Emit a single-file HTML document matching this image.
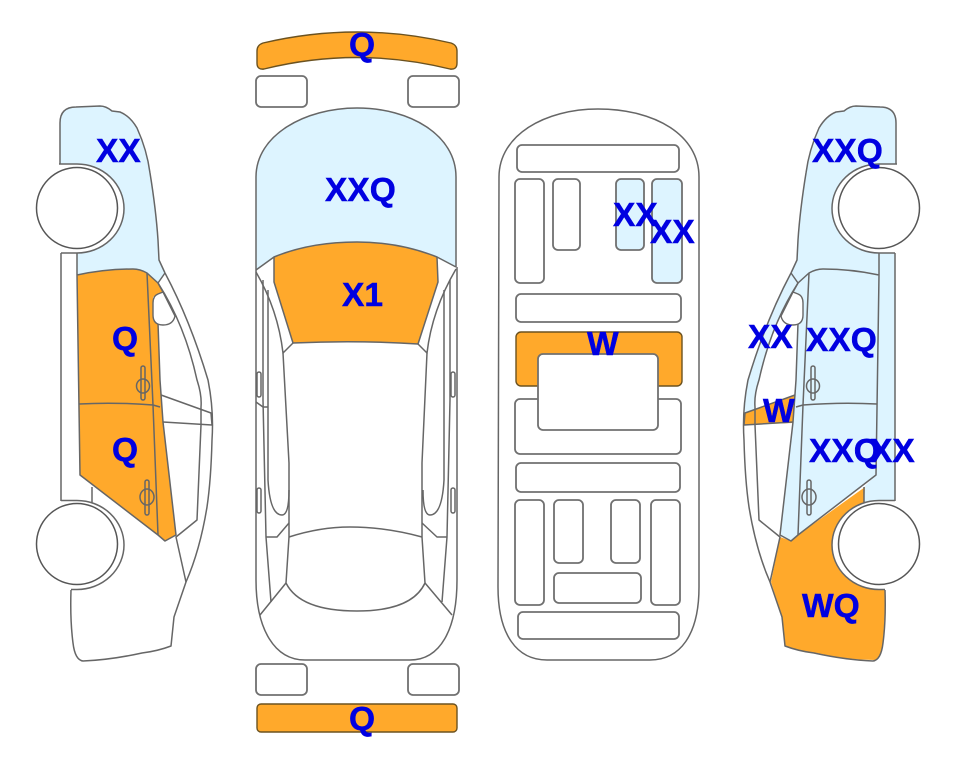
<!DOCTYPE html>
<html>
<head>
<meta charset="utf-8">
<style>
html,body{margin:0;padding:0;background:#fff;width:963px;height:768px;overflow:hidden}
svg{display:block}
.l{fill:none;stroke:#666;stroke-width:1.5;stroke-linejoin:round}
.r{fill:#fff;stroke:#707070;stroke-width:1.8}
.o{fill:#FFA92B}
.b{fill:#DDF4FF}
text{font-family:"Liberation Sans",sans-serif;font-weight:bold;font-size:33.5px;fill:#0000E1;stroke:#0000E1;stroke-width:.5}
</style>
</head>
<body>
<svg width="963" height="768" viewBox="0 0 963 768" xmlns="http://www.w3.org/2000/svg">
<defs>
<g id="side">
<path class="l" d="M60,164V123Q60,107 76,107L100,106Q106,106 112,111L120,112Q130,116 137,128Q147,150 150,173Q156,210 158,240L159,260L165,273"/>
<path class="l" d="M59,164H77A47,44.5 0 0 1 77,253H61"/>
<path class="l" d="M61,253V501M77,253V275L80,475L158,535L165,541L176,535L163,422L160,380L158,323M163,292L158,283L147,273Q140,269 133,269Q105,269 77,275"/>
<path class="l" d="M147,273L153,405L158,535M79,404Q115,402 153,405L160,407"/>
<path class="l" d="M165,273L158,283Q185,325 197,380Q202,395 201,407V425L197,520L176,537L186,582"/>
<path class="l" d="M165,273Q190,320 208,380Q214,410 212,440Q211,480 207,507Q200,550 186,582L174,617L171,646Q158,651 142,653Q110,660 83,661Q75,660 73,643Q70,620 71,590"/>
<path class="l" d="M161,395L211,413L212,425L163,422"/>
<path class="l" d="M61,500.5H77A47,44.5 0 0 1 77,589.5H71M92,487V503"/>
<ellipse class="l" cx="143" cy="386" rx="6.5" ry="7"/>
<rect class="l" x="141" y="366" width="4" height="34" rx="2"/>
<ellipse class="l" cx="147" cy="497" rx="7" ry="8"/>
<rect class="l" x="145" y="480" width="4" height="35" rx="2"/>
</g>
<path id="win" d="M153,303Q153,296 158,294L163,292L175,316Q173,325 163,325Q153,325 153,315Z" fill="#fff" stroke="#666" stroke-width="1.4"/>
<g id="wheels">
<circle cx="77" cy="208" r="40.5" fill="#fff" stroke="#555" stroke-width="1.5"/>
<circle cx="77" cy="544" r="40.5" fill="#fff" stroke="#555" stroke-width="1.5"/>
</g>
</defs>

<!-- left car -->
<path class="b" d="M60,164V123Q60,107 76,107L100,106Q106,106 112,111L120,112Q130,116 137,128Q147,150 150,173Q156,210 158,240L159,260L165,273L158,283L147,273Q140,269 133,269Q105,269 77,275V253A47,44.5 0 0 0 77,164Z"/>
<path class="o" d="M77,275Q105,269 133,269Q140,269 147,273L158,283L163,292L153,297V320L158,323L160,380L163,422L176,535L165,541L158,535L80,475Z"/>
<use href="#side"/>
<use href="#win"/>
<use href="#wheels"/>

<!-- right car -->
<g transform="translate(956,0) scale(-1,1)">
<path class="b" d="M60,164V123Q60,107 76,107L100,106Q106,106 112,111L120,112Q130,116 137,128Q147,150 150,173Q156,210 158,240L159,260L165,273L158,283L147,273Q140,269 133,269Q105,269 77,275V253A47,44.5 0 0 0 77,164Z"/>
<path class="b" d="M77,275Q105,269 133,269Q140,269 147,273L158,283L163,292L153,297V320L158,323L160,380L163,422L176,535L165,541L158,535L80,475Z"/>
<path class="b" d="M61,253H77L80,475L92,487V503A47,44.5 0 0 0 77,500.5H61Z"/>
<path class="b" d="M165,273Q190,320 208,380Q212,398 211,413L201,409V407Q202,395 197,380Q185,325 158,283Z"/>
<path class="o" d="M161,395L211,413L212,425L163,423Z"/>
<path class="o" d="M176,537L165,541L158,535L91,487L92,503A47,44.5 0 0 1 77,589.5H71L71,613L73,640Q75,660 81,660Q110,660 139,653Q158,651 171,646L174,617L185,582Z"/>
<use href="#side"/>
<use href="#win"/>
<use href="#wheels"/>
</g>

<!-- top view -->
<path class="o" d="M263,43Q357,21 451,43Q457,45 457,51V63Q457,70 450,69Q357,46 264,69Q257,70 257,63V51Q257,45 263,43Z" stroke="#6b5220" stroke-width="1.4"/>
<rect class="r" x="256" y="76" width="51" height="31" rx="5"/>
<rect class="r" x="408" y="76" width="51" height="31" rx="5"/>
<path class="b" d="M256,270V177C256,135 305,108 357,108C410,108 456,135 456,177V267L437,257Q400,242 357,242Q310,242 274,257Z"/>
<path class="o" d="M274,257Q310,242 357,242Q400,242 437,257L438,282L418,344Q357,340 293,343L274,282Z"/>
<path class="l" d="M256,270V177C256,135 305,108 357,108C410,108 456,135 456,177V267"/>
<path class="l" d="M256,270L274,257Q310,242 357,242Q400,242 437,257L456,267"/>
<path class="l" d="M274,257V282L293,343Q357,340 418,344L438,282L437,257"/>
<path class="l" d="M256,270V580C256,630 275,660 305,660H410C440,660 457,630 457,580V267"/>
<path class="l" d="M263,280V400L266,537L271,602M450,280V400L447,537L442,602"/>
<path class="l" d="M256,272Q278,310 283,353L293,343M456,269Q432,310 427,353L418,344"/>
<path class="l" d="M268,290V480Q270,515 282,515Q289,515 289,490M444,290V480Q442,515 430,515Q423,515 423,490"/>
<path class="l" d="M283,353L289,463V537L286,583Q300,611 357,611Q412,611 425,583L422,537V463L427,353"/>
<path class="l" d="M289,537Q320,527 350,527Q385,527 422,537"/>
<path class="l" d="M286,583L260,615M425,583L452,615"/>
<path class="l" d="M289,523L277,537H266M422,523L437,537H447M256,402L263,407H268"/>
<rect class="l" x="257" y="372" width="4" height="25" rx="2"/>
<rect class="l" x="257" y="488" width="4" height="25" rx="2"/>
<rect class="l" x="451" y="372" width="4" height="25" rx="2"/>
<rect class="l" x="451" y="488" width="4" height="25" rx="2"/>
<rect class="r" x="256" y="664" width="51" height="31" rx="5"/>
<rect class="r" x="408" y="664" width="51" height="31" rx="5"/>
<rect class="o" x="257" y="704" width="200" height="28" rx="4" stroke="#6b5220" stroke-width="1.4"/>

<!-- plan view -->
<path class="l" d="M499,177C499,135 545,109 598,109C655,109 699,135 699,177V587C699,635 680,660 650,660H547C517,660 498,635 498,587Z"/>
<rect class="r" x="517" y="145" width="162" height="27" rx="5"/>
<rect class="r" x="515" y="179" width="29" height="104" rx="5"/>
<rect class="r" x="553" y="179" width="27" height="71" rx="5"/>
<rect class="r" style="fill:#DDF4FF" x="616" y="179" width="28" height="71" rx="5"/>
<rect class="r" style="fill:#DDF4FF" x="652" y="179" width="30" height="104" rx="5"/>
<rect class="r" x="516" y="294" width="165" height="28" rx="5"/>
<rect class="o" x="516" y="332" width="166" height="54" rx="5" stroke="#6b5220" stroke-width="1.4"/>
<rect class="r" x="515" y="399" width="166" height="55" rx="5"/>
<rect class="r" x="538" y="354" width="120" height="76" rx="5"/>
<rect class="r" x="516" y="463" width="164" height="29" rx="5"/>
<rect class="r" x="515" y="500" width="29" height="105" rx="5"/>
<rect class="r" x="554" y="500" width="29" height="63" rx="5"/>
<rect class="r" x="611" y="500" width="29" height="63" rx="5"/>
<rect class="r" x="651" y="500" width="29" height="105" rx="5"/>
<rect class="r" x="554" y="573" width="87" height="30" rx="5"/>
<rect class="r" x="518" y="612" width="161" height="27" rx="5"/>

<!-- labels -->
<text x="96" y="162">XX</text>
<text x="112" y="350">Q</text>
<text x="112" y="461">Q</text>
<text x="349" y="56">Q</text>
<text x="325" y="201">XXQ</text>
<text x="342" y="306">X1</text>
<text x="349" y="730">Q</text>
<text x="613" y="226">XX</text>
<text x="650" y="243">XX</text>
<text x="587" y="355">W</text>
<text x="812" y="162">XXQ</text>
<text x="748" y="348">XX</text>
<text x="806" y="351">XXQ</text>
<text x="763" y="422">W</text>
<text x="809" y="462">XXQ</text>
<text x="870" y="462">XX</text>
<text x="802" y="617">WQ</text>
</svg>
</body>
</html>
